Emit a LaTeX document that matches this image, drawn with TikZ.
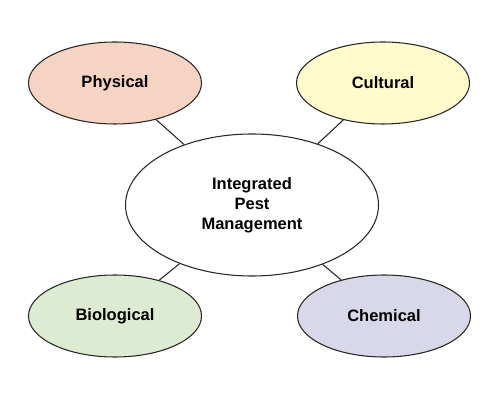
\documentclass[tikz,border=0pt]{standalone}
\usepackage{fontspec}
\setmainfont{Liberation Sans}
\usetikzlibrary{shapes.geometric}
\definecolor{physfill}{RGB}{246,212,196}
\definecolor{cultfill}{RGB}{255,251,204}
\definecolor{biofill}{RGB}{221,235,210}
\definecolor{chemfill}{RGB}{216,216,234}

\begin{document}
\begin{tikzpicture}[
    line width=0.6pt,
    blob/.style={ellipse, draw=black!85, inner sep=0pt, minimum width=3.46cm,
      minimum height=1.64cm, font=\fontsize{9.4}{11.3}\selectfont\bfseries},
    hub/.style={blob, minimum width=5.06cm, minimum height=2.84cm, align=center, fill=white},
    link/.style={draw=black!85}]
  \useasboundingbox (0,0) rectangle (10,8);

  % Centre: the whole approach
  \node[hub] (ipm) at (5.04, 3.90) {Integrated\\Pest\\Management};

  % Four kinds of control
  \node[blob, fill=physfill] (phys) at (2.30, 6.34) {Physical};
  \node[blob, fill=cultfill] (cult) at (7.66, 6.34) {Cultural};
  \node[blob, fill=biofill]  (bio)  at (2.30, 1.68) {Biological};
  \node[blob, fill=chemfill] (chem) at (7.68, 1.68) {Chemical};

  % Spokes
  \draw[link] (phys) -- (ipm);
  \draw[link] (cult) -- (ipm);
  \draw[link] (bio) -- (ipm);
  \draw[link] (chem) -- (ipm);
\end{tikzpicture}
\end{document}
